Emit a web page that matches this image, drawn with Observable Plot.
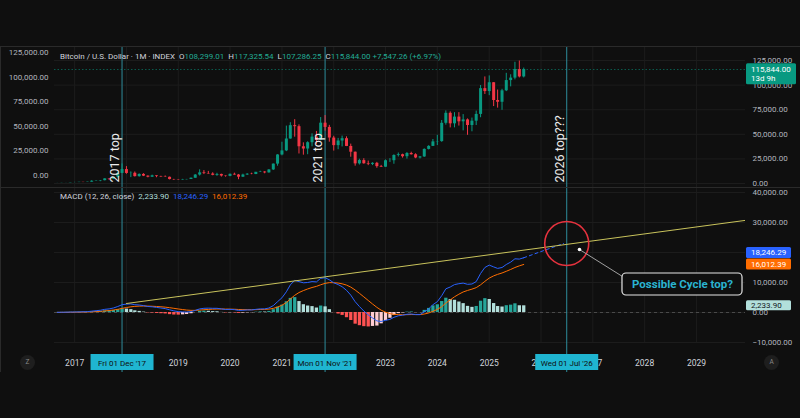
<!DOCTYPE html>
<html>
<head>
<meta charset="utf-8">
<script src="https://cdn.jsdelivr.net/npm/d3@7"></script>
<script src="https://cdn.jsdelivr.net/npm/@observablehq/plot@0.6"></script>
<style>
  html, body { margin:0; padding:0; background:#0f0f0f; }
  #chart { position:relative; width:800px; height:418px; background:#0f0f0f; overflow:hidden; font-family: Roboto, "Liberation Sans", sans-serif; }
  #chart svg { position:absolute; left:0; }
  .hline { position:absolute; left:0; width:800px; height:1px; background:#2a2a2a; }
  .vline { position:absolute; left:0; top:46px; width:1px; height:326px; background:#2a2a2a; }
  .hdr { position:absolute; left:60px; font-size:8px; color:#d1d4dc; white-space:pre; line-height:10px; }
  .hdr .v { color:#22ab94; }
  .btn { position:absolute; width:15px; height:15px; border-radius:50%; background:#1e1e1e; color:#8a8a8a; font-size:6.5px; text-align:center; line-height:15px; }
</style>
</head>
<body>
<div id="chart"></div>
<script>
// ---------------- DATA ----------------
// Monthly candles, Sep 2016 .. Sep 2025
const open = [
  573, 609, 700, 745,
  964, 970, 1190, 1080, 1348, 2286, 2480, 2875, 4703, 4338, 6468, 10233,
  14157, 10222, 10397, 6973, 9240, 7494, 6404, 7780, 7037, 6625, 6317, 4017,
  3742, 3457, 3854, 4105, 5350, 8574, 10817, 10085, 9631, 8293, 9199, 7569,
  7193, 9350, 8600, 6410, 8630, 9455, 9138, 11323, 11655, 10779, 13790, 19700,
  28990, 33140, 45240, 58800, 57750, 37330, 35040, 41460, 47130, 43820, 61320, 57000,
  46200, 38480, 43190, 45540, 37640, 31800, 19940, 23310, 20050, 19430, 20500, 17170,
  16550, 23140, 23150, 28480, 29250, 27220, 30480, 29230, 25940, 26970, 34650, 37720,
  42280, 42580, 61180, 71330, 60640, 67490, 62680, 64630, 58970, 63330, 70220, 96400,
  93430, 102400, 84350, 82550, 94200, 104600, 107100, 115760, 108299.01
];
const high = [
  628, 740, 756, 980,
  1192, 1210, 1290, 1350, 2760, 2980, 2920, 4770, 4980, 6470, 11500, 19870,
  17170, 11800, 11700, 9760, 9990, 7760, 8490, 7850, 7410, 7680, 6550, 4250,
  4110, 4210, 4140, 5640, 9070, 13880, 13130, 12320, 10900, 10370, 9510, 7750,
  9580, 10500, 9190, 9460, 10070, 10430, 11430, 12460, 12070, 14100, 19860, 29300,
  41950, 58350, 61780, 64860, 59590, 41330, 42400, 50500, 52920, 67000, 69000, 59100,
  47990, 45820, 48190, 47440, 40020, 31970, 24670, 25200, 22800, 21100, 21470, 18400,
  23960, 25250, 29190, 31000, 29820, 31430, 31800, 30230, 27480, 35200, 38430, 44700,
  48970, 64000, 73800, 72800, 71980, 71990, 70000, 65600, 66500, 73600, 99600, 108300,
  109350, 102500, 95000, 95750, 111980, 110500, 123200, 124470, 117325.54
];
const low = [
  568, 604, 681, 742,
  751, 932, 890, 1050, 1348, 2230, 1830, 2670, 2980, 4120, 5520, 10150,
  9400, 6000, 6600, 6450, 7030, 5755, 6070, 5880, 6140, 6200, 3650, 3120,
  3400, 3400, 3730, 4080, 5330, 7560, 9080, 9420, 7830, 7300, 6540, 6430,
  6870, 8470, 3850, 6150, 8120, 8920, 8990, 11150, 9880, 10550, 13220, 17570,
  28130, 32380, 45000, 47050, 30000, 28800, 29280, 37330, 39600, 43280, 53250, 42000,
  32950, 34320, 37160, 37500, 26700, 17600, 18780, 19600, 18150, 18200, 15480, 16270,
  16500, 21400, 19550, 26940, 25800, 24800, 28860, 25170, 24930, 26560, 34120, 37640,
  38550, 41880, 59300, 56500, 56560, 58400, 53500, 49000, 52550, 58900, 66830, 90500,
  89260, 78200, 76600, 74400, 93400, 98200, 105300, 107300, 107286.25
];
const close = [
  609, 700, 745, 964,
  970, 1190, 1080, 1348, 2286, 2480, 2875, 4703, 4338, 6468, 10233, 14157,
  10222, 10397, 6973, 9240, 7494, 6404, 7780, 7037, 6625, 6317, 4017, 3742,
  3457, 3854, 4105, 5350, 8574, 10817, 10085, 9631, 8293, 9199, 7569, 7193,
  9350, 8600, 6410, 8630, 9455, 9138, 11323, 11655, 10779, 13790, 19700, 28990,
  33140, 45240, 58800, 57750, 37330, 35040, 41460, 47130, 43820, 61320, 57000, 46200,
  38480, 43190, 45540, 37640, 31800, 19940, 23310, 20050, 19430, 20500, 17170, 16550,
  23140, 23150, 28480, 29250, 27220, 30480, 29230, 25940, 26970, 34650, 37720, 42280,
  42580, 61180, 71330, 60640, 67490, 62680, 64630, 58970, 63330, 70220, 96400, 93430,
  102400, 84350, 82550, 94200, 104600, 107100, 115760, 108296.74, 115844.00
];
// MACD (12, 26, close) pane, same months
const macd = [
  50, 80, 100, 140,
  160, 200, 220, 280, 450, 600, 750, 1050, 1200, 1500, 2000, 2600,
  2800, 2850, 2600, 2500, 2300, 2000, 1900, 1700, 1500, 1300, 900, 550,
  300, 200, 150, 300, 700, 1200, 1400, 1450, 1400, 1400, 1200, 1000,
  1050, 950, 700, 750, 850, 850, 1050, 1200, 1200, 1500, 2300, 3600,
  4900, 6900, 9200, 10700, 10300, 9900, 10000, 10300, 10200, 11400, 11600, 10900,
  9900, 9300, 8600, 7400, 5800, 3600, 2000, 500, -800, -1800, -2800, -3000,
  -2600, -2300, -1600, -1100, -900, -600, -500, -700, -700, 200, 1200, 2600,
  3600, 5600, 7900, 8500, 9300, 9600, 9800, 9400, 9500, 10300, 13000, 15000,
  15800, 15200, 14700, 15000, 16000, 16800, 17900, 17800, 18246.29
];
const signal = [
  30, 40, 52, 70,
  88, 110, 132, 162, 220, 296, 387, 520, 656, 825, 1060, 1368,
  1654, 1893, 2034, 2127, 2162, 2130, 2084, 2007, 1906, 1785, 1608, 1396,
  1177, 982, 816, 713, 710, 808, 926, 1031, 1105, 1164, 1171, 1137,
  1120, 1086, 1009, 957, 936, 919, 945, 996, 1037, 1130, 1364, 1811,
  2429, 3323, 4498, 5738, 6650, 7300, 7840, 8332, 8706, 9245, 9716, 9953,
  9942, 9814, 9571, 9137, 8470, 7496, 6397, 5218, 4014, 2851, 1721, 777,
  102, -378, -622, -718, -754, -723, -678, -682, -686, -509, -167, 386,
  1029, 1943, 3134, 4207, 5226, 6101, 6841, 7353, 7782, 8286, 9229, 10383,
  11466, 12213, 12710, 13168, 13734, 14347, 15000, 15550, 16012.39
];
const hist = [
  20, 40, 48, 70,
  72, 90, 88, 118, 230, 304, 363, 530, 544, 675, 940, 1232,
  1146, 957, 566, 373, 138, -130, -184, -307, -406, -485, -708, -846,
  -877, -782, -666, -413, -10, 392, 474, 419, 295, 236, 29, -137,
  -70, -136, -309, -207, -86, -69, 105, 204, 163, 370, 936, 1789,
  2471, 3577, 4702, 4962, 3650, 2600, 2160, 1968, 1494, 2155, 1884, 947,
  -42, -514, -971, -1737, -2670, -3896, -4397, -4718, -4814, -4651, -4521, -3777,
  -2702, -1922, -978, -382, -146, 123, 178, -18, -14, 709, 1367, 2214,
  2571, 3657, 4766, 4293, 4074, 3499, 2959, 2047, 1718, 2014, 3771, 4617,
  4334, 2987, 1990, 1832, 2266, 2453, 2900, 2250, 2233.90
];
// Axis ticks (2018 and 2022 sit fully under the date tags in the reference)
const years = [2017, 2019, 2020, 2021, 2023, 2024, 2025, 2026, 2027, 2028, 2029];
const gridYears = [2017, 2018, 2019, 2020, 2021, 2022, 2023, 2024, 2025, 2026, 2027, 2028, 2029];
const priceTicks = [0, 25000, 50000, 75000, 100000, 125000];
const macdTicks = [-10000, 0, 10000, 20000, 30000, 40000];
// Drawings
const markerDates = ["2017-12-01", "2021-11-01", "2026-07-01"];
const markerLabels = ["2017 top", "2021 top", "2026 top???"];
const markerTags = ["Fri 01 Dec '17", "Mon 01 Nov '21", "Wed 01 Jul '26"];
const trendDates = ["2018-01-01", "2030-01-01"];
const trendValues = [3000, 30840];
const projDates = ["2025-09-01", "2026-06-08"];
const projValues = [18246.29, 23000];
const circleDate = "2026-07-01", circleValue = 23000;
const connectorDates = ["2026-09-29", "2027-07-29"];
const connectorValues = [21000, 12000];
const calloutDates = ["2027-07-29", "2029-11-21"];
const calloutValues = [13000, 5670];
const calloutText = "Possible Cycle top?";
const remaining = "13d 9h";

// ---------------- BUILD ----------------
const d = s => new Date(s + "T00:00:00Z");
const months = d3.utcMonth.range(d("2016-09-01"), d("2025-10-01"));
const UP = "#089981", DOWN = "#f23645";
const rows = months.map((date, i) => ({
  date, open: open[i], high: high[i], low: low[i], close: close[i],
  macd: macd[i], signal: signal[i], hist: hist[i],
  candle: close[i] >= open[i] ? UP : DOWN,
  hcol: hist[i] >= 0 ? (hist[i] >= (i ? hist[i-1] : 0) ? "#26a69a" : "#b2dfdb")
                     : (hist[i] < (i ? hist[i-1] : 0) ? "#ff5252" : "#ffcdd2")
}));
const yearDates = years.map(y => new Date(Date.UTC(y, 0, 1)));
const gridDates = gridYears.map(y => new Date(Date.UTC(y, 0, 1)));
const markers = markerDates.map((s, i) => ({date: d(s), label: markerLabels[i], tag: markerTags[i]}));
const trend = trendDates.map((s, i) => ({date: d(s), v: trendValues[i]}));
const proj = projDates.map((s, i) => ({date: d(s), v: projValues[i]}));
const callout = {
  cx1: d(connectorDates[0]), cy1: connectorValues[0], cx2: d(connectorDates[1]), cy2: connectorValues[1],
  bx1: d(calloutDates[0]), bx2: d(calloutDates[1]), by1: calloutValues[0], by2: calloutValues[1]
};
const xDomain = [d("2016-08-12"), d("2029-12-12")];
const fmt = d3.format(",.2f");
const font = "Roboto, 'Liberation Sans', sans-serif";
const GRID = "#1c1c1c", VLINE = "#2e8c9b", AXIS = "#b2b5be";
const base = {
  width: 800, marginLeft: 54, marginRight: 55, marginTop: 0, marginBottom: 0,
  style: {background: "transparent", color: AXIS, fontSize: "8px", fontFamily: font},
  x: {type: "utc", domain: xDomain, axis: null},
  color: {type: "identity"}
};

const chart = document.getElementById("chart");
function place(el, top) { el.style.position = "absolute"; el.style.top = top + "px"; el.style.left = "0px"; chart.appendChild(el); return el; }

// Price pane
const pricePlot = Plot.plot({
  ...base, height: 141,
  y: {domain: [-4065, 139228], axis: null},
  marks: [
    Plot.gridX(gridDates, {stroke: GRID, strokeOpacity: 1}),
    Plot.gridY(priceTicks, {stroke: GRID, strokeOpacity: 1}),
    Plot.ruleY([close[close.length - 1]], {stroke: UP, strokeOpacity: 0.55, strokeDasharray: "1.5,2"}),
    Plot.ruleX(markers, {x: "date", stroke: VLINE}),
    Plot.ruleX(rows, {x: "date", y1: "low", y2: "high", stroke: "candle", strokeWidth: 1}),
    Plot.ruleX(rows, {x: "date", y1: "open", y2: "close", stroke: "candle", strokeWidth: 3}),
    Plot.text(markers, {x: "date", text: "label", frameAnchor: "bottom", rotate: -90, textAnchor: "start", lineAnchor: "bottom", dx: -3, dy: -5, fill: "#ececec", fontSize: 12.5}),
    Plot.axisY(priceTicks, {anchor: "right", tickSize: 0, tickPadding: 7, tickFormat: fmt, fill: AXIS})
  ]
});
place(pricePlot, 46);

// Left price scale (offset scale)
const leftPlot = Plot.plot({
  ...base, height: 141,
  y: {domain: [-12195, 131098], axis: null},
  marks: [Plot.axisY(priceTicks, {anchor: "left", tickSize: 0, tickPadding: 6, tickFormat: fmt, fill: AXIS})]
});
place(leftPlot, 46);

// MACD pane (frame 187..343, labels may spill below)
const macdPlot = Plot.plot({
  ...base, height: 185, marginBottom: 29,
  y: {domain: [-10333, 41667], axis: null},
  marks: [
    Plot.gridX(gridDates, {stroke: GRID, strokeOpacity: 1}),
    Plot.gridY(macdTicks, {stroke: GRID, strokeOpacity: 1}),
    Plot.ruleY([0], {stroke: "#4a4a4a", strokeDasharray: "3,3"}),
    Plot.ruleX(markers, {x: "date", stroke: VLINE}),
    Plot.ruleX(rows, {x: "date", y1: 0, y2: "hist", stroke: "hcol", strokeWidth: 3.3}),
    Plot.line(rows, {x: "date", y: "signal", stroke: "#ff6d00", strokeWidth: 1}),
    Plot.line(rows, {x: "date", y: "macd", stroke: "#2962ff", strokeWidth: 1}),
    Plot.line(proj, {x: "date", y: "v", stroke: "#2962ff", strokeWidth: 1, strokeDasharray: "3,3"}),
    Plot.line(trend, {x: "date", y: "v", stroke: "#c9c35c", strokeWidth: 1, clip: true}),
    Plot.dot([{date: d(circleDate), v: circleValue}], {x: "date", y: "v", r: 22, stroke: "#e5323e", strokeWidth: 1.6, fill: "none"}),
    Plot.link([callout], {x1: "cx1", y1: "cy1", x2: "cx2", y2: "cy2", stroke: "#a0a0a0", strokeWidth: 1}),
    Plot.dot([callout], {x: "cx1", y: "cy1", r: 1.8, fill: "#ffffff"}),
    Plot.rect([callout], {x1: "bx1", x2: "bx2", y1: "by1", y2: "by2", rx: 4, fill: "#0f0f0f", stroke: "#e6e6e6", strokeWidth: 1.2}),
    Plot.text([callout], {x: d => new Date((+d.bx1 + +d.bx2) / 2), y: d => (d.by1 + d.by2) / 2, text: () => calloutText, fill: "#2ab3cf", fontSize: 11.5, fontWeight: "bold"}),
    Plot.axisY(macdTicks, {anchor: "right", tickSize: 0, tickPadding: 7, tickFormat: fmt, fill: AXIS})
  ]
});
place(macdPlot, 187);

// Time axis strip
const stripPlot = Plot.plot({
  ...base, height: 29,
  marks: [
    Plot.ruleX(markers, {x: "date", stroke: VLINE}),
    Plot.text(yearDates, {x: d => d, text: d => String(d.getUTCFullYear()), frameAnchor: "top", lineAnchor: "middle", dy: 20, fill: "#d1d4dc", fontSize: 8.5}),
    Plot.ruleX(markers, {x: "date", stroke: "#1fb5d1", strokeWidth: 63, insetTop: 11, insetBottom: 2}),
    Plot.text(markers, {x: "date", text: "tag", frameAnchor: "top", lineAnchor: "middle", dy: 19.5, fill: "#0f0f0f", fontSize: 8})
  ]
});
place(stripPlot, 343);

// Axis value tags (positioned with the plots' own y scales)
function drawTag(svgEl, yTop, h, w, fill, textColor, lines) {
  const g = d3.select(svgEl).append("g").attr("font-family", font).attr("font-size", 8).attr("text-anchor", "start");
  g.append("rect").attr("x", 746).attr("y", yTop).attr("width", w).attr("height", h).attr("rx", 1.5).attr("fill", fill);
  lines.forEach((t, i) => g.append("text").attr("x", 751).attr("y", yTop + h / (lines.length * 2) + i * 8.7 + (lines.length > 1 ? 0.5 : 0)).attr("dy", "0.35em").attr("fill", textColor).text(t));
}
const py = pricePlot.scale("y"), my = macdPlot.scale("y");
const last = close.length - 1;
const yPrice = py.apply(close[last]);
drawTag(pricePlot, yPrice - 5.7, 21, 50, UP, "#ffffff", [fmt(close[last]), remaining]);
const ySig = my.apply(signal[last]);
const yMacd = Math.min(my.apply(macd[last]), ySig - 11.5);
drawTag(macdPlot, ySig - 5.5, 11, 45, "#ff6d00", "#ffffff", [fmt(signal[last])]);
drawTag(macdPlot, yMacd - 5.5, 11, 45, "#2962ff", "#ffffff", [fmt(macd[last])]);
drawTag(macdPlot, my.apply(hist[last]) - 5, 10, 45, "#b2dfdb", "#131722", [fmt(hist[last])]);

// Frame lines
[46, 187].forEach(t => { const l = document.createElement("div"); l.className = "hline"; l.style.top = t + "px"; chart.appendChild(l); });
const vl = document.createElement("div"); vl.className = "vline"; chart.appendChild(vl);

// Headers (legend lines)
const chg = close[last] - close[last - 1];
const pct = chg / close[last - 1] * 100;
const h1 = document.createElement("div"); h1.className = "hdr"; h1.style.top = "52px";
h1.innerHTML = `Bitcoin / U.S. Dollar · 1M · INDEX  O<span class="v">${fmt(open[last])}</span>  H<span class="v">${fmt(high[last])}</span>  L<span class="v">${fmt(low[last])}</span>  C<span class="v">${fmt(close[last])}</span> <span class="v">${chg >= 0 ? "+" : ""}${fmt(chg)} (${pct >= 0 ? "+" : ""}${pct.toFixed(2)}%)</span>`;
chart.appendChild(h1);
const h2 = document.createElement("div"); h2.className = "hdr"; h2.style.top = "192px";
h2.innerHTML = `MACD (12, 26, close)  <span style="color:#b2dfdb">${fmt(hist[last])}</span>  <span style="color:#2962ff">${fmt(macd[last])}</span>  <span style="color:#ff6d00">${fmt(signal[last])}</span>`;
chart.appendChild(h2);

// Corner buttons
[["Z", 20], ["A", 764]].forEach(([t, x]) => { const b = document.createElement("div"); b.className = "btn"; b.textContent = t; b.style.left = x + "px"; b.style.top = "355px"; chart.appendChild(b); });
</script>
</body>
</html>
